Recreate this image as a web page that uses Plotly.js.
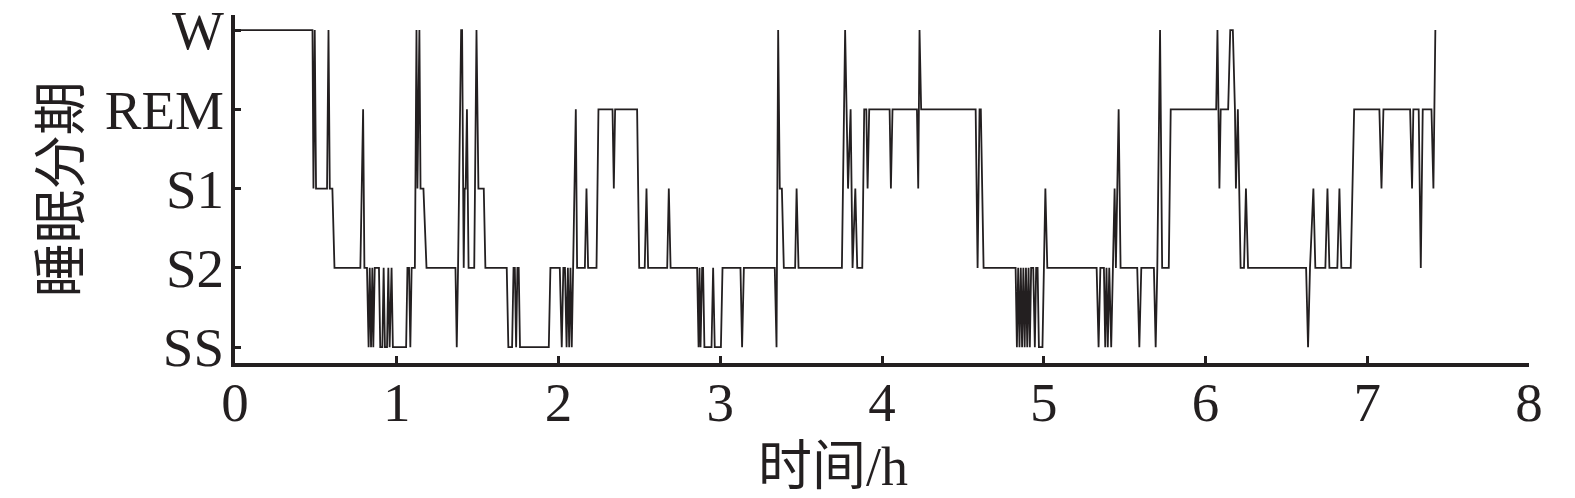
<!DOCTYPE html>
<html>
<head>
<meta charset="utf-8">
<script src="https://cdn.plot.ly/plotly-3.0.1.min.js"></script>
<style>
  body { margin: 0; background: #fff; }
  #plot { width: 1575px; height: 498px; }
</style>
</head>
<body>
<div id="plot"></div>
<script>
// Hypnogram: vertices (time in hours, stage index)
// stage index: 0 = SS, 1 = S2, 2 = S1, 3 = REM, 4 = W
let timeH = [
  0, 0.479, 0.485, 0.493, 0.501, 0.569, 0.578, 0.586, 0.602, 0.615,
  0.775, 0.792, 0.800, 0.816, 0.826, 0.833, 0.841, 0.849, 0.855, 0.864,
  0.890, 0.898, 0.911, 0.919, 0.927, 0.940, 0.948, 0.956, 0.968, 0.976,
  1.058, 1.066, 1.076, 1.084, 1.092, 1.112, 1.122, 1.128, 1.140, 1.147,
  1.165, 1.184, 1.363, 1.371, 1.379, 1.385, 1.398, 1.404, 1.414, 1.420,
  1.426, 1.434, 1.444, 1.479, 1.493, 1.505, 1.538, 1.548, 1.680, 1.690,
  1.713, 1.722, 1.730, 1.738, 1.746, 1.754, 1.762, 1.940, 1.950, 2.008,
  2.020, 2.030, 2.040, 2.050, 2.058, 2.066, 2.074, 2.082, 2.090, 2.107,
  2.115, 2.163, 2.173, 2.183, 2.235, 2.247, 2.334, 2.342, 2.350, 2.486,
  2.499, 2.533, 2.544, 2.554, 2.672, 2.682, 2.693, 2.857, 2.866, 2.872,
  2.878, 2.888, 2.894, 2.902, 2.946, 2.956, 2.966, 3.004, 3.014, 3.125,
  3.135, 3.146, 3.337, 3.348, 3.358, 3.368, 3.381, 3.393, 3.463, 3.472,
  3.484, 3.752, 3.772, 3.790, 3.806, 3.818, 3.835, 3.847, 3.878, 3.890,
  3.903, 3.911, 3.921, 4.047, 4.055, 4.065, 4.216, 4.224, 4.232, 4.242,
  4.579, 4.591, 4.603, 4.611, 4.628, 4.826, 4.834, 4.842, 4.850, 4.858,
  4.866, 4.874, 4.882, 4.890, 4.898, 4.906, 4.914, 4.922, 4.935, 4.945,
  4.953, 4.962, 4.970, 4.992, 5.010, 5.022, 5.327, 5.339, 5.350, 5.372,
  5.380, 5.388, 5.396, 5.405, 5.417, 5.438, 5.446, 5.463, 5.475, 5.578,
  5.591, 5.603, 5.681, 5.692, 5.702, 5.719, 5.732, 5.773, 5.785, 6.066,
  6.074, 6.086, 6.094, 6.140, 6.153, 6.169, 6.182, 6.188, 6.200, 6.217,
  6.238, 6.250, 6.263, 6.622, 6.634, 6.646, 6.667, 6.679, 6.741, 6.754,
  6.766, 6.815, 6.828, 6.840, 6.898, 6.919, 7.075, 7.088, 7.100, 7.265,
  7.277, 7.285, 7.318, 7.331, 7.343, 7.397, 7.409, 7.421
]
let stage = [
  4, 4, 2, 4, 2, 2, 4, 2, 2, 1,
  1, 3, 1, 1, 0, 1, 0, 1, 0, 1,
  1, 0, 0, 1, 0, 0, 1, 0, 1, 0,
  0, 1, 1, 0, 1, 1, 4, 2, 4, 2,
  2, 1, 1, 0, 1, 2, 4, 4, 1, 2,
  2, 3, 1, 1, 4, 2, 2, 1, 1, 0,
  0, 1, 1, 0, 1, 1, 0, 0, 1, 1,
  0, 1, 1, 0, 1, 0, 1, 0, 1, 3,
  1, 1, 2, 1, 1, 3, 3, 2, 3, 3,
  1, 1, 2, 1, 1, 2, 1, 1, 0, 1,
  0, 1, 1, 0, 0, 1, 0, 0, 1, 1,
  0, 1, 1, 0, 4, 2, 2, 1, 1, 2,
  1, 1, 4, 2, 3, 1, 2, 1, 1, 3,
  3, 2, 3, 3, 2, 3, 3, 2, 4, 3,
  3, 1, 3, 3, 1, 1, 0, 1, 0, 1,
  0, 1, 0, 1, 0, 1, 0, 1, 1, 0,
  1, 1, 0, 0, 2, 1, 1, 0, 1, 1,
  0, 1, 0, 1, 0, 2, 1, 3, 1, 1,
  0, 1, 1, 0, 1, 4, 1, 1, 3, 3,
  4, 2, 3, 3, 4, 4, 3, 2, 3, 1,
  1, 2, 1, 1, 0, 1, 2, 1, 1, 2,
  1, 1, 2, 1, 1, 3, 3, 2, 3, 3,
  2, 3, 3, 1, 3, 3, 2, 4
]

let stageVals = [0, 1, 2, 3, 4]
let stageLabels = ['SS', 'S2', 'S1', 'REM', 'W']
let hourTicks = [0, 1, 2, 3, 4, 5, 6, 7, 8]

let ink = '#231f20'
let serif = 'Liberation Serif, Noto Sans CJK SC, serif'

let trace = {
  x: timeH,
  y: stage,
  type: 'scatter',
  mode: 'lines',
  line: { color: ink, width: 1.8 },
  hoverinfo: 'skip'
}

let layout = {
  width: 1575,
  height: 498,
  margin: { l: 235, r: 46, t: 15, b: 135 },
  paper_bgcolor: '#fff',
  plot_bgcolor: '#fff',
  showlegend: false,
  font: { family: serif, size: 55, color: ink },
  xaxis: {
    range: [0, 8],
    tickvals: hourTicks,
    ticktext: hourTicks.map(String),
    ticks: 'inside',
    ticklen: 7,
    tickwidth: 3,
    tickcolor: ink,
    showline: true,
    linewidth: 4,
    linecolor: ink,
    showgrid: false,
    zeroline: false,
    tickfont: { family: serif, size: 55, color: ink },
    ticklabelstandoff: -12
  },
  yaxis: {
    range: [-0.2, 4.19],
    tickvals: stageVals,
    ticktext: stageLabels,
    ticks: 'inside',
    ticklen: 6,
    tickwidth: 3,
    tickcolor: ink,
    showline: true,
    linewidth: 4,
    linecolor: ink,
    showgrid: false,
    zeroline: false,
    tickfont: { family: serif, size: 55, color: ink },
    ticklabelstandoff: -4
  },
  annotations: [
    {
      text: '时间/h',
      xref: 'paper', yref: 'paper',
      x: 0.462, y: -0.3,
      xanchor: 'center', yanchor: 'middle',
      showarrow: false,
      font: { family: serif, size: 54, color: ink }
    },
    {
      text: '睡眠分期',
      xref: 'paper', yref: 'paper',
      x: -0.1335, y: 0.5,
      xanchor: 'center', yanchor: 'middle',
      textangle: -90,
      showarrow: false,
      font: { family: serif, size: 54, color: ink }
    }
  ]
}

Plotly.newPlot('plot', [trace], layout, { staticPlot: true, displayModeBar: false })
</script>
</body>
</html>
